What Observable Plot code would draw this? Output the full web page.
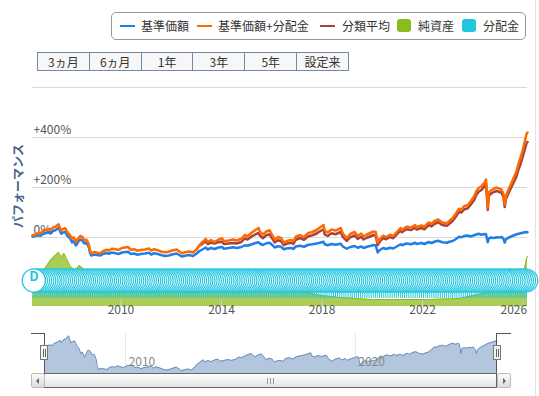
<!DOCTYPE html>
<html><head><meta charset="utf-8">
<script src="https://cdn.jsdelivr.net/npm/d3@7"></script>
<script src="https://cdn.jsdelivr.net/npm/@observablehq/plot@0.6"></script>
<style>
html,body{margin:0;padding:0;background:#fff;}
#root{position:relative;width:539px;height:396px;overflow:hidden;font-family:"Noto Sans CJK JP","Noto Sans",sans-serif;color:#333;}
#root svg{position:absolute;left:0;top:0;background:transparent;}
.a{position:absolute;}
#legend{left:111px;top:12px;width:415px;height:28px;border:1px solid #999;border-radius:5px;box-sizing:border-box;}
.lt{position:absolute;font-size:12px;line-height:14px;top:19px;color:#333;white-space:nowrap;}
.ls{position:absolute;top:25px;width:15px;height:2px;}
.lq{position:absolute;top:19px;width:14px;height:13px;border-radius:3px;}
#btns{left:37px;top:52px;width:312px;height:19px;border:1px solid #7289ab;box-sizing:border-box;display:flex;background:#f7f7f7;}
#btns div{flex:1;text-align:center;font-size:12px;line-height:17px;color:#333;border-right:1px solid #7289ab;}
#btns div:last-child{border-right:none;}
#ytitle{left:17px;top:186px;transform:translate(-50%,-50%) rotate(-90deg);font-size:12px;font-weight:bold;color:#45648c;white-space:nowrap;}
.hl{position:absolute;background:#555;}
.handle{position:absolute;top:345px;width:8px;height:15px;border:1px solid #777;background:#f2f2f2;box-sizing:border-box;}
.handle:before,.handle:after{content:"";position:absolute;top:3px;width:1px;height:8px;background:#666;}
.handle:before{left:2px}.handle:after{left:4px}
.sbtn{position:absolute;top:373px;width:14px;height:15px;border:1px solid #bbb;border-radius:2px;box-sizing:border-box;background:linear-gradient(#fbfbfb,#dcdcdc);}
.arrL{position:absolute;left:4px;top:4px;width:0;height:0;border-top:3px solid transparent;border-bottom:3px solid transparent;border-right:3px solid #666;}
.arrR{position:absolute;left:5px;top:4px;width:0;height:0;border-top:3px solid transparent;border-bottom:3px solid transparent;border-left:3px solid #666;}
#thumb{left:44px;top:373px;width:453px;height:15px;border:1px solid #666;box-sizing:border-box;background:linear-gradient(#ffffff,#e4e4e4);}
.grip{position:absolute;top:4px;width:1px;height:6px;background:#999;}
#edge{left:535px;top:0;width:1px;height:396px;background:#e3e3e3;}
</style>
</head><body>
<div id="root">
  <div id="edge" class="a"></div>
  <div id="legend" class="a"></div>
  <div class="ls" style="left:120px;background:#1f7fe6"></div><div class="lt" style="left:141px">基準価額</div>
  <div class="ls" style="left:197px;background:#ff6a00"></div><div class="lt" style="left:218px">基準価額+分配金</div>
  <div class="ls" style="left:320px;background:#a8423a"></div><div class="lt" style="left:342px">分類平均</div>
  <div class="lq" style="left:397px;background:#8cbc1c"></div><div class="lt" style="left:418px">純資産</div>
  <div class="lq" style="left:462px;background:#22c6e0"></div><div class="lt" style="left:483px">分配金</div>
  <div id="btns" class="a"></div>
  <div id="ytitle" class="a">パフォーマンス</div>
</div>
<script>
// ---- data ----
const rangeButtons = ["3ヵ月","6ヵ月","1年","3年","5年","設定来"];

const perfDates = ["2006-06-26","2006-08-01","2006-09-15","2006-10-20","2006-12-01","2007-01-15","2007-02-26","2007-03-15","2007-04-20","2007-05-25","2007-07-10","2007-08-17","2007-09-10","2007-10-15","2007-11-20","2007-12-20","2008-01-22","2008-02-15","2008-03-17","2008-04-20","2008-05-20","2008-06-20","2008-07-20","2008-08-20","2008-09-20","2008-10-10","2008-10-27","2008-12-10","2009-01-20","2009-03-09","2009-04-15","2009-06-10","2009-07-10","2009-08-20","2009-10-01","2009-11-27","2010-01-15","2010-04-15","2010-05-25","2010-07-10","2010-08-31","2010-10-15","2010-12-15","2011-02-15","2011-03-15","2011-04-28","2011-06-20","2011-08-19","2011-10-04","2011-11-25","2012-01-15","2012-03-20","2012-06-04","2012-07-20","2012-09-15","2012-11-13","2013-01-10","2013-02-10","2013-03-15","2013-05-20","2013-06-13","2013-08-01","2013-09-20","2013-11-20","2014-01-10","2014-02-05","2014-04-15","2014-06-20","2014-08-08","2014-10-17","2014-12-05","2015-01-15","2015-03-20","2015-05-20","2015-06-24","2015-07-10","2015-08-25","2015-10-15","2015-12-01","2016-01-20","2016-02-12","2016-03-31","2016-05-15","2016-06-24","2016-08-15","2016-10-15","2016-11-09","2016-12-15","2017-02-15","2017-04-14","2017-06-15","2017-08-15","2017-10-15","2017-11-15","2018-01-23","2018-02-09","2018-03-23","2018-05-20","2018-07-15","2018-09-28","2018-10-30","2018-12-25","2019-02-15","2019-04-20","2019-06-03","2019-07-25","2019-08-26","2019-10-15","2019-12-15","2020-01-20","2020-02-20","2020-03-19","2020-04-20","2020-06-08","2020-07-20","2020-09-15","2020-10-30","2020-12-15","2021-02-15","2021-03-05","2021-05-10","2021-07-20","2021-09-15","2021-10-05","2021-12-15","2022-01-27","2022-03-30","2022-05-12","2022-06-20","2022-08-15","2022-10-13","2022-12-20","2023-01-25","2023-03-15","2023-04-20","2023-06-15","2023-07-20","2023-08-25","2023-10-20","2023-11-30","2024-01-20","2024-02-20","2024-03-25","2024-05-05","2024-06-25","2024-07-10","2024-08-05","2024-08-20","2024-09-20","2024-10-30","2024-12-15","2025-01-20","2025-02-20","2025-03-20","2025-04-08","2025-04-25","2025-05-30","2025-07-10","2025-08-15","2025-09-20","2025-10-25","2025-11-25","2025-12-25","2026-01-25","2026-02-20","2026-03-05"];

// 基準価額 (%)
const navPct = [3,6,9,7,15,18,24,16,26,29,39,15,20,22,5,-2,-20,-14,-32,-17,-8,-12,-24,-22,-38,-62,-72,-68,-70,-72,-66,-62,-65,-60,-62,-66,-60,-57,-66,-64,-69,-66,-64,-61,-68,-63,-66,-71,-74,-72,-68,-64,-76,-73,-70,-74,-63,-55,-50,-40,-48,-42,-46,-40,-38,-45,-42,-39,-42,-38,-31,-33,-27,-21,-19,-24,-30,-23,-21,-33,-40,-35,-37,-47,-43,-42,-46,-36,-33,-37,-29,-27,-24,-22,-17,-27,-31,-26,-29,-25,-36,-45,-38,-34,-41,-36,-42,-37,-33,-30,-31,-60,-50,-42,-46,-41,-44,-37,-27,-31,-24,-27,-21,-26,-22,-26,-18,-22,-17,-13,-19,-21,-17,-14,-8,3,1,6,8,4,9,12,15,11,14,13,-19,-4,0,-2,1,0,2,-5,-20,-8,-1,4,8,12,15,17,19,21,22,21];

// 基準価額+分配金 (%)
const navDivPct = [8,12,18,17,27,30,36,28,40,43,53,27,34,37,18,10,-5,1,-18,-4,6,2,-12,-9,-26,-52,-64,-58,-61,-63,-55,-49,-52,-45,-46,-50,-42,-38,-49,-47,-53,-50,-48,-44,-52,-47,-51,-57,-59,-57,-52,-48,-63,-59,-56,-60,-46,-32,-22,-6,-18,-10,-18,-8,-4,-15,-12,-8,-12,-5,10,5,20,32,38,25,12,24,29,4,-8,2,-2,-20,-13,-10,-16,3,10,2,18,22,30,37,50,27,20,32,28,38,16,-2,14,22,6,16,4,12,20,24,22,-20,-6,8,2,11,6,20,38,30,43,40,50,41,48,43,60,55,65,72,60,57,66,78,92,115,112,125,130,145,165,185,198,205,222,232,120,180,188,195,200,195,192,175,132,165,190,215,238,260,295,320,350,385,415,420];

// 分類平均 (%)
const avgPct = [null,null,null,null,null,null,null,null,null,null,null,null,null,null,null,null,null,null,null,null,null,null,null,null,null,null,null,null,null,null,null,null,null,null,null,null,null,null,null,null,null,null,null,null,null,null,null,null,null,null,null,null,null,null,null,null,null,-34,-28,-14,-26,-20,-24,-18,-17,-26,-24,-22,-24,-18,-4,-8,5,14,18,9,-3,9,13,-9,-20,-11,-15,-30,-24,-21,-26,-9,-2,-9,5,9,16,22,33,12,6,17,13,22,2,-14,1,8,-6,3,-8,-1,6,10,8,-30,-16,-2,-7,2,-3,10,28,21,33,30,40,32,38,33,50,45,54,61,50,47,55,67,80,103,100,112,117,131,150,170,183,190,207,217,110,167,175,182,186,182,179,162,122,153,176,199,220,240,272,295,322,352,378,382];

// 純資産 (億円)
const assetDates = ["2006-06-26","2006-10-15","2007-01-05","2007-03-10","2007-05-20","2007-07-10","2007-08-20","2007-09-25","2007-11-05","2007-12-20","2008-02-01","2008-03-10","2008-05-01","2008-06-20","2008-09-01","2008-10-20","2009-03-01","2009-12-15","2011-03-15","2012-01-15","2012-10-15","2013-07-15","2014-11-15","2016-01-15","2017-03-15","2017-12-15","2018-09-15","2019-12-15","2021-02-15","2022-04-15","2023-06-15","2024-03-15","2025-01-15","2025-07-15","2025-10-15","2026-01-15","2026-02-20","2026-03-05"];
const assetValues = [160,310,393,460,510,543,493,533,477,410,380,360,410,390,310,230,210,190,170,140,140,170,190,180,150,110,90,70,70,70,80,120,160,210,260,360,480,500];

// 分配金 (D flags)
const dividendMonths = [
"2006-07","2006-08","2006-09","2006-10","2006-11","2006-12",
"2007-01","2007-02","2007-03","2007-04","2007-05","2007-06","2007-07","2007-08","2007-09","2007-10","2007-11","2007-12",
"2008-01","2008-02","2008-03","2008-04","2008-05","2008-06","2008-07","2008-08","2008-09","2008-10","2008-11","2008-12",
"2009-01","2009-02","2009-03","2009-04","2009-05","2009-06","2009-07","2009-08","2009-09","2009-10","2009-11","2009-12",
"2010-01","2010-02","2010-03","2010-04","2010-05","2010-06","2010-07","2010-08","2010-09","2010-10","2010-11","2010-12",
"2011-01","2011-02","2011-03","2011-04","2011-05","2011-06","2011-07","2011-08","2011-09","2011-10","2011-11","2011-12",
"2012-01","2012-02","2012-03","2012-04","2012-05","2012-06","2012-07","2012-08","2012-09","2012-10","2012-11","2012-12",
"2013-01","2013-02","2013-03","2013-04","2013-05","2013-06","2013-07","2013-08","2013-09","2013-10","2013-11","2013-12",
"2014-01","2014-02","2014-03","2014-04","2014-05","2014-06","2014-07","2014-08","2014-09","2014-10","2014-11","2014-12",
"2015-01","2015-02","2015-03","2015-04","2015-05","2015-06","2015-07","2015-08","2015-09","2015-10","2015-11","2015-12",
"2016-01","2016-02","2016-03","2016-04","2016-05","2016-06","2016-07","2016-08","2016-09","2016-10","2016-11","2016-12",
"2017-01","2017-02","2017-03","2017-04","2017-05","2017-06","2017-07","2017-08","2017-09","2017-10","2017-11","2017-12",
"2018-01","2018-02","2018-03","2018-04","2018-05","2018-06","2018-07","2018-08","2018-09","2018-10","2018-11","2018-12",
"2019-01","2019-02","2019-03","2019-04","2019-05","2019-06","2019-07","2019-08","2019-09","2019-10","2019-11","2019-12",
"2020-01","2020-02","2020-03","2020-04","2020-05","2020-06","2020-07","2020-08","2020-09","2020-10","2020-11","2020-12",
"2021-01","2021-02","2021-03","2021-04","2021-05","2021-06","2021-07","2021-08","2021-09","2021-10","2021-11","2021-12",
"2022-01","2022-02","2022-03","2022-04","2022-05","2022-06","2022-07","2022-08","2022-09","2022-10","2022-11","2022-12",
"2023-01","2023-02","2023-03","2023-04","2023-05","2023-06","2023-07","2023-08","2023-09","2023-10","2023-11","2023-12",
"2024-01","2024-02","2024-03","2024-04","2024-05","2024-06","2024-07","2024-08","2024-09","2024-10","2024-11","2024-12",
"2025-01","2025-02","2025-03","2025-04","2025-05","2025-06","2025-07","2025-08","2025-09","2025-10","2025-11","2025-12",
"2026-01","2026-02"];

const yGridValues = [0, 200, 400, 600];
const yTickValues = [0, 200, 400];
const yTickLabels = ["0%", "+200%", "+400%"];
const xTickYears = ["2010","2014","2018","2022","2026"];
const navTickYears = ["2010","2020"];

// ---- build ----
const pDay = d3.utcParse("%Y-%m-%d");
const pMonth = d3.utcParse("%Y-%m");
const pYear = d3.utcParse("%Y");
const perf = perfDates.map((d, i) => ({date: pDay(d), nav: navPct[i], navDiv: navDivPct[i], avg: avgPct[i]}));
const assets = assetDates.map((d, i) => ({date: pDay(d), value: assetValues[i]}));
const dividends = dividendMonths.map(m => d3.utcDay.offset(pMonth(m), 14));
const xDomain = [pDay(perfDates[0]), pDay(perfDates[perfDates.length - 1])];
const xTicks = xTickYears.map(y => ({date: pYear(y), label: y}));
const navTicks = navTickYears.map(y => ({date: pYear(y), label: y}));
const FONT = '"Noto Sans CJK JP","Noto Sans",sans-serif';
const C = {blue:"#1f7fe6", orange:"#ff6a00", red:"#a8423a", green:"#8cbc1c", cyan:"#22c6e0"};

const root = document.getElementById("root");
const btns = document.getElementById("btns");
rangeButtons.forEach(t => { const d = document.createElement("div"); d.textContent = t; btns.appendChild(d); });

// lower pane: net assets + dividend flags + x axis
const lower = Plot.plot({
  width: 539, height: 330,
  marginLeft: 32, marginRight: 12, marginTop: 250, marginBottom: 24,
  x: {type: "utc", domain: xDomain, range: [32, 527], axis: null},
  y: {domain: [0, 560], axis: null},
  style: {background: "transparent", fontFamily: FONT, overflow: "visible"},
  marks: [
    Plot.areaY(assets, {x: "date", y: "value", fill: C.green, fillOpacity: 0.75, curve: "linear"}),
    Plot.line(assets, {x: "date", y: "value", stroke: C.green, strokeWidth: 1}),
    Plot.ruleX(dividends, {x: d => d, insetTop: 41, insetBottom: 8, stroke: C.cyan, strokeWidth: 1}),
    Plot.dot(dividends.slice().reverse(), {x: d => d, frameAnchor: "bottom", dy: -26, r: 11.5, fill: "white", fillOpacity: 0.7, stroke: C.cyan, strokeWidth: 1.2}),
    Plot.dot(dividends.slice(0, 1), {x: d => d, frameAnchor: "bottom", dy: -26, r: 11.5, fill: "white", stroke: C.cyan, strokeWidth: 1.2}),
    Plot.text(dividends.slice(0, 1), {x: d => d, text: () => "D", frameAnchor: "bottom", dy: -26, fill: C.cyan, fontWeight: "bold", fontSize: 13}),
    Plot.tickX(xTicks, {x: "date", insetTop: 50, stroke: "#c8d2e0"}),
    Plot.text(xTicks.slice(0, -1), {x: "date", text: "label", frameAnchor: "bottom", dy: 7, fill: "#555", fontSize: 12}),
    Plot.text(xTicks.slice(-1), {x: "date", text: "label", frameAnchor: "bottom", dy: 7, dx: 4, textAnchor: "end", fill: "#555", fontSize: 12})
  ]
});
root.appendChild(lower);

// main pane: performance lines
const main = Plot.plot({
  width: 539, height: 270,
  marginLeft: 32, marginRight: 12, marginTop: 86, marginBottom: 8,
  x: {type: "utc", domain: xDomain, range: [32, 527], axis: null},
  y: {domain: [-100, 600], range: [262, 87], axis: null},
  style: {background: "transparent", fontFamily: FONT, overflow: "visible"},
  marks: [
    Plot.ruleY(yGridValues, {stroke: "#d9d9d9", strokeWidth: 1}),
    Plot.text(yTickValues, {y: d => d, text: (d, i) => yTickLabels[i], frameAnchor: "left", dx: 1, dy: -7, textAnchor: "start", fill: "#555", fontSize: 12}),
    Plot.line(perf, {x: "date", y: "nav", stroke: C.blue, strokeWidth: 2.5}),
    Plot.line(perf, {x: "date", y: "avg", stroke: C.red, strokeWidth: 2.5}),
    Plot.line(perf, {x: "date", y: "navDiv", stroke: C.orange, strokeWidth: 2.5})
  ]
});
root.appendChild(main);

// navigator
const nav = Plot.plot({
  width: 539, height: 396,
  marginLeft: 44, marginRight: 42, marginTop: 333, marginBottom: 23,
  x: {type: "utc", domain: xDomain, range: [44.3, 496.7], axis: null},
  y: {domain: [-85, 40], range: [373, 335], axis: null},
  style: {background: "transparent", fontFamily: FONT, overflow: "visible"},
  marks: [
    Plot.ruleX(navTicks, {x: "date", stroke: "#e4e4e4"}),
    Plot.areaY(perf, {x: "date", y1: -85, y2: "nav", fill: "#b4c6de"}),
    Plot.line(perf, {x: "date", y: "nav", stroke: "#6b8ebd", strokeWidth: 1}),
    Plot.text(navTicks, {x: "date", text: "label", frameAnchor: "bottom", dx: 3, dy: -8, textAnchor: "start", fill: "#888", fontSize: 12})
  ]
});
root.appendChild(nav);

// navigator outline, handles and scrollbar
function el(cls, css, parent) { const d = document.createElement("div"); d.className = cls; d.style.cssText = css; (parent || root).appendChild(d); return d; }
el("hl", "left:31px;top:333px;width:14px;height:1px;");
el("hl", "left:44px;top:333px;width:1px;height:40px;");
el("hl", "left:496px;top:333px;width:15px;height:1px;");
el("hl", "left:496px;top:333px;width:1px;height:40px;");
const th = el("a", "", root); th.id = "thumb";
[-3, 0, 3].forEach(o => el("grip", `left:${225 + o}px;`, th));
const lb = el("sbtn", "left:31px;"); el("arrL", "", lb);
const rb = el("sbtn", "left:497px;"); el("arrR", "", rb);
el("handle", "left:40px;");
el("handle", "left:493px;");
</script>
</body></html>
